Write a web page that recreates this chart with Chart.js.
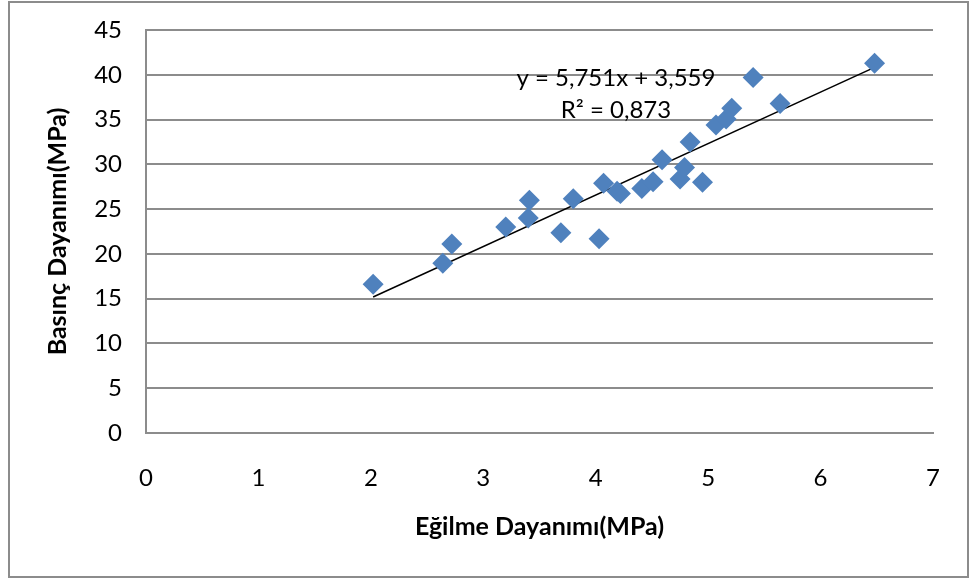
<!DOCTYPE html>
<html>
<head>
<meta charset="utf-8">
<script src="https://cdn.jsdelivr.net/npm/chart.js@4.4.1/dist/chart.umd.min.js"></script>
<style>
  html, body { margin: 0; padding: 0; background: #ffffff; }
  #wrap { position: relative; width: 969px; height: 579px; }
  #frame { position: absolute; left: 8px; top: 1px; width: 957px; height: 573px; border: 2px solid #8c8c8c; box-sizing: content-box; pointer-events: none; }
  canvas { position: absolute; left: 0; top: 0; }
</style>
</head>
<body>
<div id="wrap">
  <canvas id="c" width="969" height="579"></canvas>
  <div id="frame"></div>
</div>
<script>
// Data
const flexural = [2.02, 2.64, 2.72, 3.20, 3.40, 3.41, 3.69, 3.80, 4.03, 4.07, 4.19, 4.22, 4.41, 4.51, 4.59, 4.75, 4.79, 4.84, 4.95, 5.07, 5.16, 5.21, 5.40, 5.64, 6.48];
const compressive = [16.6, 18.95, 21.1, 23.0, 24.0, 26.0, 22.35, 26.15, 21.7, 27.9, 27.0, 26.75, 27.3, 28.05, 30.5, 28.35, 29.65, 32.5, 28.0, 34.4, 35.05, 36.25, 39.7, 36.8, 41.3];
const trendX = [2.02, 6.48];
const trendY = [15.18, 40.83];
const equationLines = ["y = 5,751x + 3,559", "R\u00B2 = 0,873"];
const xTitle = "E\u011Filme Dayan\u0131m\u0131(MPa)";
const yTitle = "Bas\u0131n\u00E7 Dayan\u0131m\u0131(MPa)";

const FONT = "Lato, 'Open Sans', sans-serif";

const scatterData = flexural.map((x, i) => ({ x: x, y: compressive[i] }));
const trendData = trendX.map((x, i) => ({ x: x, y: trendY[i] }));

const equationPlugin = {
  id: 'equation',
  afterDatasetsDraw(chart) {
    const ctx = chart.ctx;
    const xs = chart.scales.x, ys = chart.scales.y;
    ctx.save();
    ctx.font = "24px " + FONT;
    ctx.fillStyle = "#000000";
    ctx.textBaseline = "middle";
    ctx.textAlign = "center";
    ctx.fillText(equationLines[0], xs.getPixelForValue(4.18), ys.getPixelForValue(39.6));
    ctx.fillText(equationLines[1], xs.getPixelForValue(4.18), ys.getPixelForValue(36.05));
    ctx.restore();
  }
};

new Chart(document.getElementById('c'), {
  type: 'scatter',
  data: {
    datasets: [
      {
        label: 'data',
        data: scatterData,
        pointStyle: 'rectRot',
        pointRadius: 10.5,
        pointHoverRadius: 10.5,
        backgroundColor: '#4F81BD',
        borderColor: '#4F81BD',
        borderWidth: 0,
        order: 1
      },
      {
        label: 'trend',
        type: 'line',
        data: trendData,
        borderColor: '#000000',
        borderWidth: 1.5,
        pointRadius: 0,
        fill: false,
        order: 2
      }
    ]
  },
  options: {
    responsive: false,
    animation: false,
    devicePixelRatio: 1,
    layout: { padding: { left: 0, right: 36, top: 30, bottom: 0 } },
    plugins: {
      legend: { display: false },
      tooltip: { enabled: false }
    },
    scales: {
      x: {
        type: 'linear',
        min: 0,
        max: 7,
        afterFit(scale) { scale.height = 146; },
        ticks: { stepSize: 1, padding: 0, color: '#000000', font: { family: FONT, size: 24 } },
        grid: { display: false, drawOnChartArea: false, drawTicks: true, tickLength: 31, tickColor: 'rgba(0,0,0,0)' },
        border: { display: true, color: '#8c8c8c', width: 2 },
        title: { display: true, text: xTitle, color: '#000000', font: { family: FONT, size: 25, weight: 'bold' }, padding: { top: 0, bottom: 37 } }
      },
      y: {
        type: 'linear',
        min: 0,
        max: 45,
        afterFit(scale) { scale.width = 146; },
        ticks: { stepSize: 5, padding: 0, color: '#000000', font: { family: FONT, size: 24 } },
        grid: { display: true, drawTicks: true, tickLength: 24, tickColor: 'rgba(0,0,0,0)', color: '#8c8c8c', lineWidth: 2 },
        border: { display: true, color: '#8c8c8c', width: 2 },
        title: { display: true, text: yTitle, color: '#000000', font: { family: FONT, size: 25, weight: 'bold' }, padding: { top: 43, bottom: 0 } }
      }
    }
  },
  plugins: [equationPlugin]
});
</script>
</body>
</html>
